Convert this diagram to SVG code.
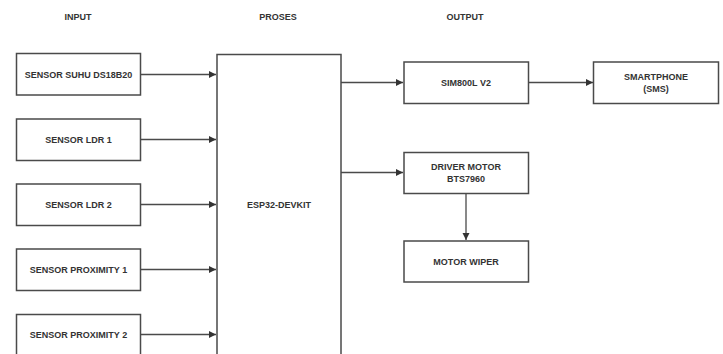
<svg xmlns="http://www.w3.org/2000/svg" width="723" height="354" viewBox="0 0 723 354">
<style>
.box{fill:#fff;stroke:#4a4a4a;stroke-width:1.5}
.t{font-family:"Liberation Sans",Arial,sans-serif;font-weight:bold;font-size:9px;fill:#333;text-anchor:middle}
.c{fill:none;stroke:#4a4a4a;stroke-width:1.3}
</style>
<defs>
<marker id="a" markerWidth="8" markerHeight="8" refX="7" refY="4" orient="auto" markerUnits="userSpaceOnUse">
<path d="M0,0.5 L7,4 L0,7.5 Z" fill="#333"/>
</marker>
</defs>
<rect width="723" height="354" fill="#fff"/>
<g id="headers">
<text class="t" x="78" y="20">INPUT</text>
<text class="t" x="278" y="20">PROSES</text>
<text class="t" x="465" y="20">OUTPUT</text>
</g>
<g id="connectors">
<line class="c" x1="141" y1="74.5" x2="216" y2="74.5" marker-end="url(#a)"/>
<line class="c" x1="141" y1="139.5" x2="216" y2="139.5" marker-end="url(#a)"/>
<line class="c" x1="141" y1="204.5" x2="216" y2="204.5" marker-end="url(#a)"/>
<line class="c" x1="141" y1="269.5" x2="216" y2="269.5" marker-end="url(#a)"/>
<line class="c" x1="141" y1="334.5" x2="216" y2="334.5" marker-end="url(#a)"/>
<line class="c" x1="341" y1="82.5" x2="403" y2="82.5" marker-end="url(#a)"/>
<line class="c" x1="529" y1="82.5" x2="593" y2="82.5" marker-end="url(#a)"/>
<line class="c" x1="341" y1="172.5" x2="403" y2="172.5" marker-end="url(#a)"/>
<line class="c" x1="466" y1="194" x2="466" y2="240" marker-end="url(#a)"/>
</g>
<g id="n-suhu"><rect class="box" x="16.5" y="53.5" width="124" height="41.5"/><text class="t" x="78.5" y="77.5">SENSOR SUHU DS18B20</text></g>
<g id="n-ldr1"><rect class="box" x="16.5" y="119" width="124" height="41.5"/><text class="t" x="78.5" y="142.5">SENSOR LDR 1</text></g>
<g id="n-ldr2"><rect class="box" x="16.5" y="184" width="124" height="41.5"/><text class="t" x="78.5" y="207.5">SENSOR LDR 2</text></g>
<g id="n-prox1"><rect class="box" x="16.5" y="249" width="124" height="41.5"/><text class="t" x="78.5" y="272.5">SENSOR PROXIMITY 1</text></g>
<g id="n-prox2"><rect class="box" x="16.5" y="314.5" width="124" height="41.5"/><text class="t" x="78.5" y="337.5">SENSOR PROXIMITY 2</text></g>
<g id="n-esp"><rect class="box" x="217" y="54.5" width="124" height="302"/><text class="t" x="279" y="207.5">ESP32-DEVKIT</text></g>
<g id="n-sim"><rect class="box" x="404" y="62" width="124.5" height="41.5"/><text class="t" x="466" y="85.5">SIM800L V2</text></g>
<g id="n-phone"><rect class="box" x="593.5" y="62" width="125" height="41.5"/><text class="t" x="656" y="79.5">SMARTPHONE</text><text class="t" x="656" y="91.5">(SMS)</text></g>
<g id="n-driver"><rect class="box" x="404" y="152.5" width="124.5" height="41"/><text class="t" x="466" y="169.5">DRIVER MOTOR</text><text class="t" x="466" y="181.5">BTS7960</text></g>
<g id="n-wiper"><rect class="box" x="404" y="241" width="124.5" height="41"/><text class="t" x="466" y="264.5">MOTOR WIPER</text></g>
</svg>
